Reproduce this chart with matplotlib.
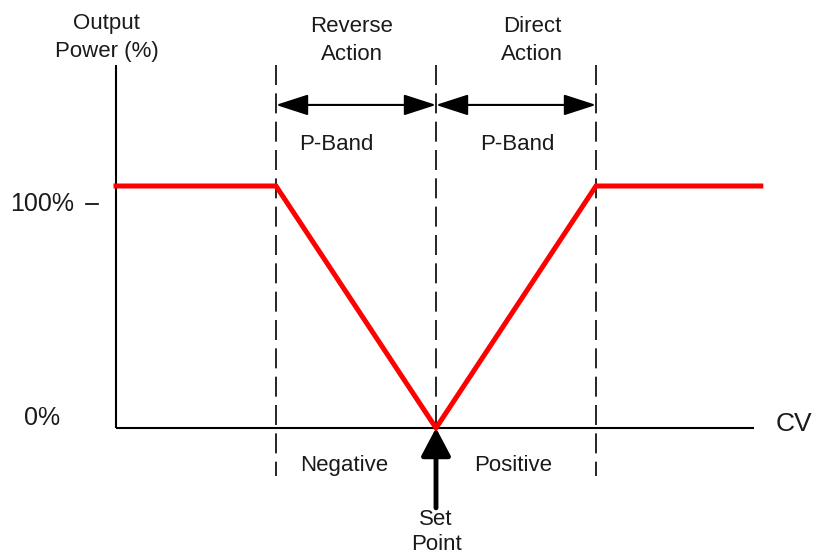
import matplotlib.pyplot as plt

plt.rcParams['font.family'] = ['Liberation Sans', 'DejaVu Sans']

# Data: control variable (set point at 0, one P-band = 1 unit) vs output power (%)
cv = [-2.0, -1.0, 0.0, 1.0, 2.03]
output = [100, 100, 0, 100, 100]
band_edges = [-1.0, 0.0, 1.0]
zone_labels = ['Negative', 'Positive']
action_labels = ['Reverse\nAction', 'Direct\nAction']

fig = plt.figure(figsize=(8.16, 5.54), dpi=100)
ax = fig.add_axes([0, 0, 1, 1])
ax.set_xlim(-2.725, 2.375)
ax.set_ylim(-52.07, 176.86)
ax.axis('off')

# axes
ax.plot([-2.0, -2.0], [0, 150], color='black', lw=1.5, solid_capstyle='butt')
ax.plot([-2.0, 1.99], [0, 0], color='black', lw=1.5, solid_capstyle='butt')

# dashed band boundaries
for xe in band_edges:
    ax.plot([xe, xe], [150, -20], color='black', lw=1.2, dashes=(12, 5))

# output curve
ax.plot(cv, output, color='#ff0000', lw=3.6, solid_joinstyle='miter', zorder=5)

# P-band arrows
arrow_y = 133.5
for a, b in [(band_edges[0], band_edges[1]), (band_edges[1], band_edges[2])]:
    ax.annotate('', xy=(b, arrow_y), xytext=(a, arrow_y),
                arrowprops=dict(arrowstyle='<|-|>,head_length=2.0,head_width=0.65',
                                lw=1.5, color='black', shrinkA=0, shrinkB=0,
                                mutation_scale=10))

# set point arrow
ax.annotate('', xy=(0, 0), xytext=(0, -33),
            arrowprops=dict(arrowstyle='-|>,head_length=1.7,head_width=0.9',
                            lw=3.5, color='black', shrinkA=0, shrinkB=0,
                            mutation_scale=10), zorder=6)

fs = 16
tc = '#1a1a1a'
ax.text(-2.06, 161.2, 'Output\nPower (%)', ha='center', va='center', fontsize=fs,
        linespacing=1.45, color=tc)
ax.text(-0.525, 160.0, action_labels[0], ha='center', va='center', fontsize=fs,
        linespacing=1.45, color=tc)
ax.text(0.6, 160.0, action_labels[1], ha='center', va='center', fontsize=fs,
        linespacing=1.45, color=tc)
ax.text(-0.625, 117.0, 'P-Band', ha='center', va='center', fontsize=fs, color=tc)
ax.text(0.51, 117.0, 'P-Band', ha='center', va='center', fontsize=fs, color=tc)
ax.text(-0.575, -15.3, zone_labels[0], ha='center', va='center', fontsize=fs, color=tc)
ax.text(0.48, -15.3, zone_labels[1], ha='center', va='center', fontsize=fs, color=tc)
ax.text(0.0, -43.0, 'Set\nPoint', ha='center', va='center', fontsize=fs,
        linespacing=1.3, color=tc)

ax.text(-2.46, 92.5, '100%', ha='center', va='center', fontsize=18, color=tc)
ax.plot([-2.19, -2.11], [92.5, 92.5], color='black', lw=1.2)
ax.text(-2.46, 4.0, '0%', ha='center', va='center', fontsize=18, color=tc)
ax.text(2.24, 1.6, 'CV', ha='center', va='center', fontsize=19, color=tc)

fig.savefig('out.png', dpi=100)
